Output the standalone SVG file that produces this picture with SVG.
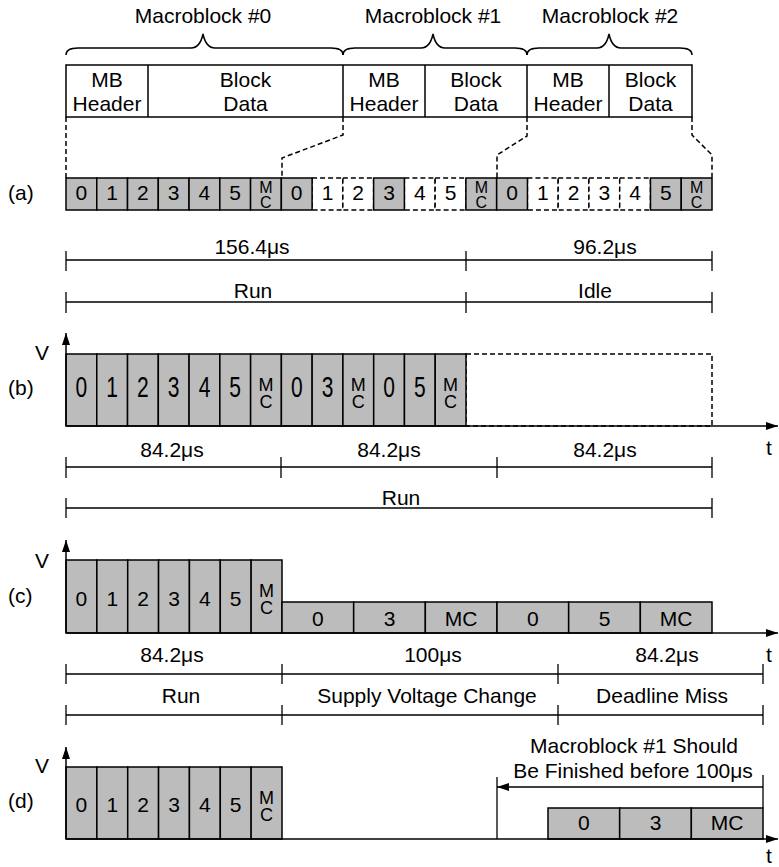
<svg xmlns="http://www.w3.org/2000/svg" width="779" height="867" viewBox="0 0 779 867">
<style>
.t{font-family:"Liberation Sans",Arial,sans-serif;font-size:21px;fill:#000}
.c{text-anchor:middle}
.v{writing-mode:vertical-rl;text-orientation:upright;text-anchor:middle;font-size:16px;letter-spacing:-2px}
.v2{font-size:18px;letter-spacing:-3px}
.sh{fill:#bcbcbc;stroke:#000;stroke-width:1.5}
.dc{fill:#fff;stroke:#000;stroke-width:1.5;stroke-dasharray:5,3}
.bx{fill:#fff;stroke:#000;stroke-width:1.5}
.ln{fill:none;stroke:#000;stroke-width:1.5}
.dm{fill:none;stroke:#000;stroke-width:1.3}
.dl{fill:none;stroke:#000;stroke-width:1.5;stroke-dasharray:5,3}
</style>
<defs>
<marker id="ah" viewBox="0 0 12 8" refX="12" refY="4" markerWidth="12" markerHeight="8" markerUnits="userSpaceOnUse" orient="auto">
<path d="M0,0 L12,4 L0,8 z" fill="#000"/>
</marker>
</defs>

<g id="titles">
<text class="t c" x="203" y="23">Macroblock #0</text>
<text class="t c" x="433" y="23">Macroblock #1</text>
<text class="t c" x="610" y="23">Macroblock #2</text>
</g>

<g id="braces" class="ln">
<path d="M66,55 Q66,48 78,48 L191,48 Q200,48 203,34 Q206,48 215,48 L331,48 Q343,48 343,55"/>
<path d="M343,55 Q343,48 355,48 L421,48 Q430,48 433,34 Q436,48 445,48 L515,48 Q527,48 527,55"/>
<path d="M527,55 Q527,48 539,48 L597,48 Q606,48 609,34 Q612,48 621,48 L680,48 Q692,48 692,55"/>
</g>

<g id="header">
<rect class="bx" x="66" y="65" width="626" height="52"/>
<path class="ln" d="M148,65 V117 M343,65 V117 M425,65 V117 M527,65 V117 M609,65 V117"/>
<text class="t c" x="107" y="87">MB</text><text class="t c" x="107" y="111">Header</text>
<text class="t c" x="245.5" y="87">Block</text><text class="t c" x="245.5" y="111">Data</text>
<text class="t c" x="384" y="87">MB</text><text class="t c" x="384" y="111">Header</text>
<text class="t c" x="476" y="87">Block</text><text class="t c" x="476" y="111">Data</text>
<text class="t c" x="568" y="87">MB</text><text class="t c" x="568" y="111">Header</text>
<text class="t c" x="650.5" y="87">Block</text><text class="t c" x="650.5" y="111">Data</text>
</g>

<g id="connectors" class="dl">
<path d="M66,117 V178"/>
<path d="M343,117 V135 L282,158 V178"/>
<path d="M527,117 V136 L497,155 V178"/>
<path d="M692,117 V135 L712,155 V178"/>
</g>

<g id="row-a">
<text class="t" x="8" y="200">(a)</text>
<rect class="dc" x="312.10" y="178" width="30.76" height="32"/>
<rect class="dc" x="342.86" y="178" width="30.76" height="32"/>
<rect class="dc" x="404.38" y="178" width="30.76" height="32"/>
<rect class="dc" x="435.14" y="178" width="30.76" height="32"/>
<rect class="dc" x="527.43" y="178" width="30.76" height="32"/>
<rect class="dc" x="558.19" y="178" width="30.76" height="32"/>
<rect class="dc" x="588.95" y="178" width="30.76" height="32"/>
<rect class="dc" x="619.71" y="178" width="30.76" height="32"/>
<rect class="sh" x="66" y="178" width="30.76" height="32"/>
<rect class="sh" x="96.76" y="178" width="30.76" height="32"/>
<rect class="sh" x="127.52" y="178" width="30.76" height="32"/>
<rect class="sh" x="158.29" y="178" width="30.76" height="32"/>
<rect class="sh" x="189.05" y="178" width="30.76" height="32"/>
<rect class="sh" x="219.81" y="178" width="30.76" height="32"/>
<rect class="sh" x="250.57" y="178" width="30.76" height="32"/>
<rect class="sh" x="281.33" y="178" width="30.76" height="32"/>
<rect class="sh" x="373.62" y="178" width="30.76" height="32"/>
<rect class="sh" x="465.90" y="178" width="30.76" height="32"/>
<rect class="sh" x="496.67" y="178" width="30.76" height="32"/>
<rect class="sh" x="650.48" y="178" width="30.76" height="32"/>
<rect class="sh" x="681.24" y="178" width="30.76" height="32"/>
<text class="t c" x="81.4" y="200">0</text>
<text class="t c" x="112.1" y="200">1</text>
<text class="t c" x="142.9" y="200">2</text>
<text class="t c" x="173.7" y="200">3</text>
<text class="t c" x="204.4" y="200">4</text>
<text class="t c" x="235.2" y="200">5</text>
<text class="t v" x="265.9" y="194">MC</text>
<text class="t c" x="296.7" y="200">0</text>
<text class="t c" x="327.5" y="200">1</text>
<text class="t c" x="358.2" y="200">2</text>
<text class="t c" x="389.0" y="200">3</text>
<text class="t c" x="419.8" y="200">4</text>
<text class="t c" x="450.5" y="200">5</text>
<text class="t v" x="481.3" y="194">MC</text>
<text class="t c" x="512.0" y="200">0</text>
<text class="t c" x="542.8" y="200">1</text>
<text class="t c" x="573.6" y="200">2</text>
<text class="t c" x="604.3" y="200">3</text>
<text class="t c" x="635.1" y="200">4</text>
<text class="t c" x="665.9" y="200">5</text>
<text class="t v" x="696.6" y="194">MC</text>
</g>

<g id="dims-a">
<path class="dm" d="M66,260 H712 M66,251 V271 M466,251 V271 M712,251 V271"/>
<path class="dm" d="M66,302 H712 M66,292 V313 M466,292 V313 M712,292 V313"/>
<text class="t c" x="252" y="254">156.4μs</text>
<text class="t c" x="605" y="254">96.2μs</text>
<text class="t c" x="253" y="298">Run</text>
<text class="t c" x="595" y="298">Idle</text>
</g>

<g id="row-b">
<text class="t" x="8" y="395">(b)</text>
<text class="t" x="35" y="360">V</text>
<rect class="dl" x="466" y="354" width="246" height="72"/>
<rect class="sh" x="66" y="354" width="30.77" height="72"/>
<rect class="sh" x="96.77" y="354" width="30.77" height="72"/>
<rect class="sh" x="127.54" y="354" width="30.77" height="72"/>
<rect class="sh" x="158.31" y="354" width="30.77" height="72"/>
<rect class="sh" x="189.08" y="354" width="30.77" height="72"/>
<rect class="sh" x="219.85" y="354" width="30.77" height="72"/>
<rect class="sh" x="250.62" y="354" width="30.77" height="72"/>
<rect class="sh" x="281.38" y="354" width="30.77" height="72"/>
<rect class="sh" x="312.15" y="354" width="30.77" height="72"/>
<rect class="sh" x="342.92" y="354" width="30.77" height="72"/>
<rect class="sh" x="373.69" y="354" width="30.77" height="72"/>
<rect class="sh" x="404.46" y="354" width="30.77" height="72"/>
<rect class="sh" x="435.23" y="354" width="30.77" height="72"/>
<g class="t c">
<text transform="translate(81.4,397) scale(1,1.37)">0</text>
<text transform="translate(112.2,397) scale(1,1.37)">1</text>
<text transform="translate(142.9,397) scale(1,1.37)">2</text>
<text transform="translate(173.7,397) scale(1,1.37)">3</text>
<text transform="translate(204.5,397) scale(1,1.37)">4</text>
<text transform="translate(235.2,397) scale(1,1.37)">5</text>
<text class="v v2" x="266.0" y="392">MC</text>
<text transform="translate(296.8,397) scale(1,1.37)">0</text>
<text transform="translate(327.5,397) scale(1,1.37)">3</text>
<text class="v v2" x="358.3" y="392">MC</text>
<text transform="translate(389.1,397) scale(1,1.37)">0</text>
<text transform="translate(419.8,397) scale(1,1.37)">5</text>
<text class="v v2" x="450.6" y="392">MC</text>
</g>
<path class="ln" d="M66,426 V333" marker-end="url(#ah)"/>
<path class="ln" d="M66,426 H778" marker-end="url(#ah)"/>
<text class="t" x="766" y="455">t</text>
</g>

<g id="dims-b">
<path class="dm" d="M66,467 H712 M66,457 V478 M281,457 V478 M497,457 V478 M712,457 V478"/>
<path class="dm" d="M66,508 H712 M66,498 V518 M712,498 V518"/>
<text class="t c" x="172" y="457">84.2μs</text>
<text class="t c" x="389" y="457">84.2μs</text>
<text class="t c" x="605" y="457">84.2μs</text>
<text class="t c" x="401" y="505">Run</text>
</g>

<g id="row-c">
<text class="t" x="8" y="603">(c)</text>
<text class="t" x="35" y="568">V</text>
<rect class="sh" x="66" y="560" width="30.86" height="73"/>
<rect class="sh" x="96.86" y="560" width="30.86" height="73"/>
<rect class="sh" x="127.71" y="560" width="30.86" height="73"/>
<rect class="sh" x="158.57" y="560" width="30.86" height="73"/>
<rect class="sh" x="189.43" y="560" width="30.86" height="73"/>
<rect class="sh" x="220.29" y="560" width="30.86" height="73"/>
<rect class="sh" x="251.14" y="560" width="30.86" height="73"/>
<rect class="sh" x="282" y="602" width="71.67" height="31"/>
<rect class="sh" x="353.67" y="602" width="71.67" height="31"/>
<rect class="sh" x="425.33" y="602" width="71.67" height="31"/>
<rect class="sh" x="497" y="602" width="71.67" height="31"/>
<rect class="sh" x="568.67" y="602" width="71.67" height="31"/>
<rect class="sh" x="640.33" y="602" width="71.67" height="31"/>
<g class="t c">
<text x="81.4" y="606">0</text>
<text x="112.3" y="606">1</text>
<text x="143.1" y="606">2</text>
<text x="174.0" y="606">3</text>
<text x="204.9" y="606">4</text>
<text x="235.7" y="606">5</text>
<text class="v v2" x="266.6" y="598">MC</text>
<text x="317.8" y="626">0</text>
<text x="389.5" y="626">3</text>
<text x="461.2" y="626">MC</text>
<text x="532.8" y="626">0</text>
<text x="604.5" y="626">5</text>
<text x="676.2" y="626">MC</text>
</g>
<path class="ln" d="M66,633 V540" marker-end="url(#ah)"/>
<path class="ln" d="M66,633 H778" marker-end="url(#ah)"/>
</g>

<g id="dims-c">
<path class="dm" d="M66,674 H763 M66,664 V684 M282,664 V684 M558,664 V684 M763,664 V684"/>
<path class="dm" d="M66,715 H763 M66,705 V725 M282,705 V725 M558,705 V725 M763,705 V725"/>
<text class="t c" x="172" y="662">84.2μs</text>
<text class="t c" x="433" y="662">100μs</text>
<text class="t c" x="667" y="662">84.2μs</text>
<text class="t" x="766" y="662">t</text>
<text class="t c" x="181" y="703">Run</text>
<text class="t c" x="427" y="703">Supply Voltage Change</text>
<text class="t c" x="662" y="703">Deadline Miss</text>
</g>

<g id="row-d">
<text class="t" x="8" y="808">(d)</text>
<text class="t" x="35" y="773">V</text>
<rect class="sh" x="66" y="767" width="30.86" height="72"/>
<rect class="sh" x="96.86" y="767" width="30.86" height="72"/>
<rect class="sh" x="127.71" y="767" width="30.86" height="72"/>
<rect class="sh" x="158.57" y="767" width="30.86" height="72"/>
<rect class="sh" x="189.43" y="767" width="30.86" height="72"/>
<rect class="sh" x="220.29" y="767" width="30.86" height="72"/>
<rect class="sh" x="251.14" y="767" width="30.86" height="72"/>
<rect class="sh" x="548" y="808" width="71.67" height="31"/>
<rect class="sh" x="619.67" y="808" width="71.67" height="31"/>
<rect class="sh" x="691.33" y="808" width="71.67" height="31"/>
<g class="t c">
<text x="81.4" y="812">0</text>
<text x="112.3" y="812">1</text>
<text x="143.1" y="812">2</text>
<text x="174.0" y="812">3</text>
<text x="204.9" y="812">4</text>
<text x="235.7" y="812">5</text>
<text class="v v2" x="266.6" y="805">MC</text>
<text x="583.8" y="830">0</text>
<text x="655.5" y="830">3</text>
<text x="727.2" y="830">MC</text>
</g>
<path class="ln" d="M66,839 V747" marker-end="url(#ah)"/>
<path class="ln" d="M66,839 H778" marker-end="url(#ah)"/>
<text class="t" x="766" y="863">t</text>
</g>

<g id="deadline">
<path class="dm" d="M497,777 V839 M763,775 V808"/>
<path class="ln" d="M763,787 H497" marker-end="url(#ah)"/>
<text class="t c" x="634" y="753">Macroblock #1 Should</text>
<text class="t c" x="633" y="778">Be Finished before 100μs</text>
</g>
</svg>
